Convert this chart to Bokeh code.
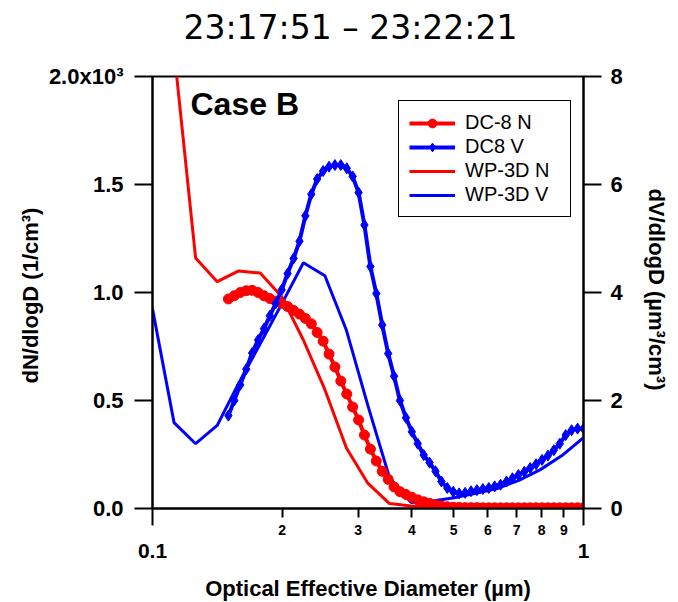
import numpy as np
from bokeh.plotting import figure
from bokeh.models import (Range1d, LinearAxis, LogAxis, FixedTicker, Legend, LegendItem,
                          Label)
from bokeh.embed import file_html
from bokeh.resources import INLINE

# ---------------- data ----------------
dc8_diam = [0.1500, 0.1548, 0.1598, 0.1650, 0.1703, 0.1758, 0.1814, 0.1872, 0.1932, 0.1994,
            0.2058, 0.2125, 0.2193, 0.2263, 0.2336, 0.2410, 0.2488, 0.2568, 0.2650, 0.2735,
            0.2823, 0.2913, 0.3007, 0.3103, 0.3203, 0.3306, 0.3412, 0.3522, 0.3635, 0.3751,
            0.3873, 0.3997, 0.4125, 0.4258, 0.4394, 0.4535, 0.4681, 0.4831, 0.4986, 0.5146,
            0.5313, 0.5483, 0.5659, 0.5841, 0.6028, 0.6222, 0.6421, 0.6629, 0.6841, 0.7061,
            0.7289, 0.7522, 0.7762, 0.8012, 0.8270, 0.8535, 0.8808, 0.9094, 0.9384, 0.9689, 1.0000]
dc8_n = [970, 985, 1000, 1008, 1010, 1000, 985, 972, 960, 950,
         935, 917, 900, 880, 855, 815, 775, 715, 655, 590,
         530, 470, 410, 340, 275, 220, 172, 135, 100, 78,
         65, 52, 40, 31, 24, 17, 12, 8, 6, 5,
         4, 4, 4, 3, 3, 3, 3, 3, 3, 3,
         3, 3, 3, 3, 3, 3, 3, 3, 3, 3, 3]
dc8_v = [1.72, 2.00, 2.29, 2.58, 2.88, 3.12, 3.33, 3.57, 3.80, 4.05,
         4.35, 4.63, 4.95, 5.42, 5.82, 6.10, 6.25, 6.33, 6.36, 6.36,
         6.30, 6.15, 5.85, 5.25, 4.48, 3.98, 3.40, 2.87, 2.45, 2.00,
         1.68, 1.42, 1.20, 0.99, 0.85, 0.69, 0.50, 0.38, 0.31, 0.28,
         0.29, 0.32, 0.34, 0.36, 0.38, 0.41, 0.44, 0.50, 0.56, 0.62,
         0.68, 0.75, 0.82, 0.90, 0.98, 1.08, 1.20, 1.36, 1.45, 1.48, 1.48]

wp3d_diam = [0.1000, 0.1122, 0.1259, 0.1413, 0.1585, 0.1778, 0.1995, 0.2239, 0.2512, 0.2818,
             0.3162, 0.3548, 0.3981, 0.4467, 0.5012, 0.5623, 0.6310, 0.7079, 0.7943, 0.8913, 1.0000]
wp3d_n = [np.nan, 2120, 1160, 1050, 1100, 1090, 980, 780, 550, 280,
          116, 23, 12, 8, 5, 3, 3, 3, 3, 3, 3]
wp3d_v = [3.70, 1.59, 1.20, 1.54, 2.32, 3.05, 3.79, 4.55, 4.31, 3.30,
          1.90, 0.57, 0.11, 0.14, 0.20, 0.28, 0.37, 0.52, 0.72, 0.98, 1.31]

x_major_ticks = [0.1, 1.0]
x_major_labels = ["0.1", "1"]
x_minor_ticks = [0.2, 0.3, 0.4, 0.5, 0.6, 0.7, 0.8, 0.9]
x_minor_labels = ["2", "3", "4", "5", "6", "7", "8", "9"]
yl_ticks = [0, 500, 1000, 1500, 2000]
yl_labels = ["0.0", "0.5", "1.0", "1.5", "2.0x10³"]
yr_ticks = [0, 2, 4, 6, 8]
yr_labels = ["0", "2", "4", "6", "8"]

FONT = "Liberation Sans"

p = figure(frame_width=431, frame_height=432, x_axis_type="log",
           x_range=Range1d(0.1, 1.0), y_range=Range1d(0, 2000),
           output_backend="svg", toolbar_location=None,
           min_border_left=152, min_border_right=87,
           min_border_top=76, min_border_bottom=90)
p.extra_y_ranges = {"v": Range1d(0, 8)}
p.xgrid.visible = False
p.ygrid.visible = False
p.outline_line_color = "black"
p.outline_line_width = 2
p.outline_line_alpha = 1.0
p.background_fill_color = "white"
p.border_fill_color = "white"

# title
p.title.text = "23:17:51 – 23:22:21"
p.title.text_font = "DejaVu Sans"
p.title.text_font_size = "33px"
p.title.text_font_style = "normal"
p.title.text_color = "black"
p.title.align = "left"
p.title.offset = 31
p.title.standoff = 10
p.title.padding = dict(left=0, right=0, top=0, bottom=25)


def style_axis(ax, label_size):
    ax.axis_line_color = "black"
    ax.axis_line_width = 2
    ax.major_tick_line_color = "black"
    ax.major_tick_line_width = 2
    ax.minor_tick_line_color = "black"
    ax.minor_tick_line_width = 2
    ax.major_tick_in = 0
    ax.minor_tick_in = 0
    ax.major_label_text_font = FONT
    ax.major_label_text_font_style = "bold"
    ax.major_label_text_font_size = label_size
    ax.major_label_text_color = "black"
    ax.axis_label_text_font = FONT
    ax.axis_label_text_font_style = "bold"
    ax.axis_label_text_font_size = "22px"
    ax.axis_label_text_color = "black"


# bottom axis A (next to the frame): labelled 2..9 ticks, long unlabelled ticks at 0.1 and 1
xa = p.xaxis[0]
xa.ticker = FixedTicker(ticks=x_minor_ticks, minor_ticks=x_major_ticks)
xa.major_label_overrides = dict(zip(x_minor_ticks, x_minor_labels))
style_axis(xa, "14px")
xa.major_tick_out = 9
xa.minor_tick_out = 17
xa.major_label_standoff = -1

# bottom axis B (below A): labels 0.1 and 1 plus the title
xb = LogAxis(ticker=FixedTicker(ticks=x_major_ticks, minor_ticks=[]))
xb.major_label_overrides = dict(zip(x_major_ticks, x_major_labels))
style_axis(xb, "21px")
xb.axis_line_color = None
xb.major_tick_line_color = None
xb.minor_tick_line_color = None
xb.major_tick_out = 0
xb.minor_tick_out = 0
xb.major_label_standoff = 6
xb.axis_label = "Optical Effective Diameter (µm)"
xb.axis_label_standoff = 15
p.add_layout(xb, "below")

# left axis
ya = p.yaxis[0]
ya.ticker = FixedTicker(ticks=yl_ticks, minor_ticks=[])
ya.major_label_overrides = dict(zip(yl_ticks, yl_labels))
style_axis(ya, "22px")
ya.major_tick_out = 18
ya.minor_tick_out = 0
ya.major_label_standoff = 11
ya.axis_label = "dN/dlogD  (1/cm³)"
ya.axis_label_standoff = 3

# right axis
ra = LinearAxis(y_range_name="v", ticker=FixedTicker(ticks=yr_ticks, minor_ticks=[]))
ra.major_label_overrides = dict(zip(yr_ticks, yr_labels))
style_axis(ra, "22px")
ra.major_tick_out = 18
ra.minor_tick_out = 0
ra.major_label_standoff = 9
ra.axis_label = "dV/dlogD  (µm³/cm³)"
ra.axis_label_standoff = 18
p.add_layout(ra, "right")

# data
r_wn = p.line(wp3d_diam, np.array(wp3d_n, dtype=float), line_color="red", line_width=3)
r_wv = p.line(wp3d_diam, wp3d_v, line_color="blue", line_width=3, y_range_name="v")
r_dn_l = p.line(dc8_diam, dc8_n, line_color="red", line_width=4)
r_dn_s = p.scatter(dc8_diam, dc8_n, marker="circle", size=10,
                   fill_color="red", line_color="red")
r_dv_l = p.line(dc8_diam, dc8_v, line_color="blue", line_width=4, y_range_name="v")
r_dv_s = p.scatter(dc8_diam, dc8_v, marker="diamond", size=11,
                   fill_color="blue", line_color="blue", y_range_name="v")

# case label
p.add_layout(Label(x=0.1225, y=1875, text="Case B", text_font=FONT,
                   text_font_style="bold", text_font_size="32px",
                   text_align="left", text_baseline="alphabetic", text_color="black"))

legend = Legend(items=[
    LegendItem(label="DC-8 N", renderers=[r_dn_l, r_dn_s]),
    LegendItem(label="DC8 V", renderers=[r_dv_l, r_dv_s]),
    LegendItem(label="WP-3D N", renderers=[r_wn]),
    LegendItem(label="WP-3D V", renderers=[r_wv]),
], location=(246, 291))
legend.border_line_color = "black"
legend.border_line_width = 1.5
legend.border_line_alpha = 1.0
legend.background_fill_color = "white"
legend.background_fill_alpha = 1.0
legend.padding = 10
legend.spacing = 1
legend.margin = 0
legend.glyph_width = 46
legend.glyph_height = 22
legend.label_height = 22
legend.label_width = 95
legend.label_standoff = 10
legend.label_text_font = FONT
legend.label_text_font_size = "20px"
legend.label_text_color = "black"
p.add_layout(legend)

open("out.html", "w").write(file_html(p, INLINE))
